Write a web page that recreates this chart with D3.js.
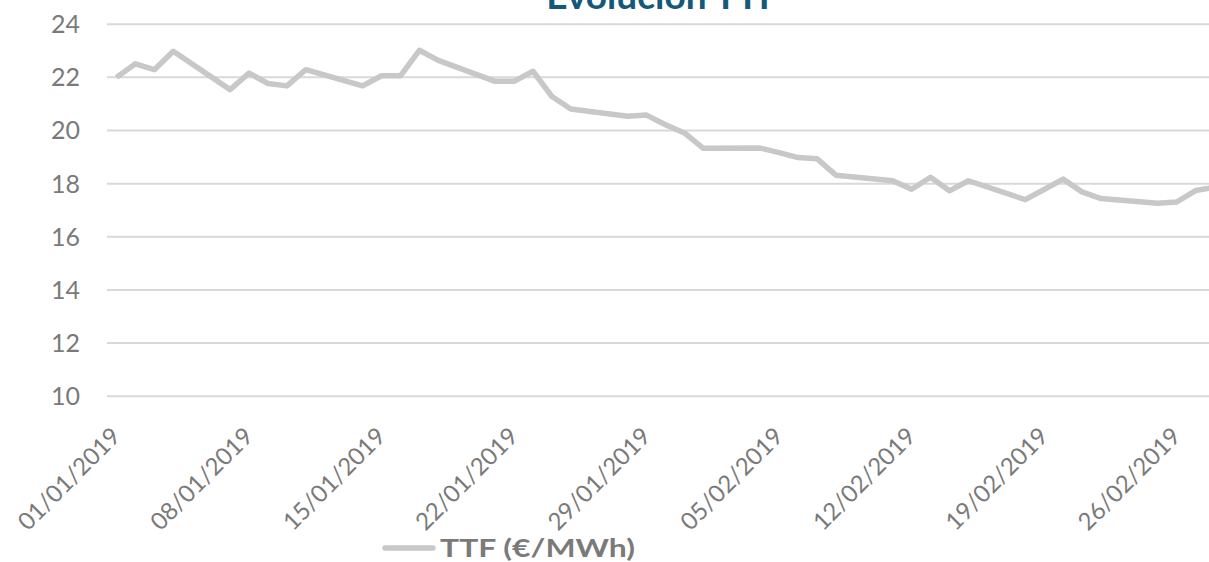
<!DOCTYPE html>
<html>
<head>
<meta charset="utf-8">
<script src="https://cdn.jsdelivr.net/npm/d3@7"></script>
<style>
  html, body { margin: 0; padding: 0; background: #fff; overflow: hidden; }
  svg { display: block; }
  svg text { font-family: Lato, "Open Sans", sans-serif; }
</style>
</head>
<body>
<div id="chart"></div>
<script>
// TTF daily prices (trading days only)
const dates = [
  "01/01/2019", "02/01/2019", "03/01/2019", "04/01/2019",
  "07/01/2019", "08/01/2019", "09/01/2019", "10/01/2019", "11/01/2019",
  "14/01/2019", "15/01/2019", "16/01/2019", "17/01/2019", "18/01/2019",
  "21/01/2019", "22/01/2019", "23/01/2019", "24/01/2019", "25/01/2019",
  "28/01/2019", "29/01/2019", "30/01/2019", "31/01/2019", "01/02/2019",
  "04/02/2019", "05/02/2019", "06/02/2019", "07/02/2019", "08/02/2019",
  "11/02/2019", "12/02/2019", "13/02/2019", "14/02/2019", "15/02/2019",
  "18/02/2019", "19/02/2019", "20/02/2019", "21/02/2019", "22/02/2019",
  "25/02/2019", "26/02/2019", "27/02/2019", "28/02/2019"
];
const ttf = [
  21.98, 22.49, 22.27, 22.96,
  21.52, 22.14, 21.75, 21.66, 22.27,
  21.66, 22.04, 22.04, 23.0, 22.62,
  21.83, 21.83, 22.21, 21.26, 20.79,
  20.52, 20.56, 20.2, 19.89, 19.31,
  19.32, 19.15, 18.96, 18.92, 18.3,
  18.09, 17.77, 18.22, 17.71, 18.09,
  17.38, 17.76, 18.15, 17.67, 17.42,
  17.24, 17.29, 17.72, 17.84
];
const xTickLabels = [
  "01/01/2019", "08/01/2019", "15/01/2019", "22/01/2019", "29/01/2019",
  "05/02/2019", "12/02/2019", "19/02/2019", "26/02/2019"
];
const yTicks = [10, 12, 14, 16, 18, 20, 22, 24];
const title = "Evolución TTF";
const seriesName = "TTF (€/MWh)";

const width = 1209;
const height = 562;
const lineColor = "#c8c8c8";
const gridColor = "#d9d9d9";
const textColor = "#7a7a7a";
const font = "Lato, 'Open Sans', sans-serif";

const parse = d3.utcParse("%d/%m/%Y");
const data = dates.map((d, i) => ({ date: parse(d), value: ttf[i] }));

const svg = d3
  .select("#chart")
  .append("svg")
  .attr("width", width)
  .attr("height", height);

// date axis: half a day of padding on each side, plot runs past the right edge
const x = d3
  .scaleUtc()
  .domain([d3.utcHour.offset(parse("01/01/2019"), -12), d3.utcHour.offset(parse("28/02/2019"), 12)])
  .range([107, 1224]);

const y = d3.scaleLinear().domain([10, 24]).range([395.7, 23.7]);

// horizontal gridlines + y labels
const yAxis = svg
  .append("g")
  .attr("transform", "translate(107,0)")
  .call(d3.axisLeft(y).tickValues(yTicks).tickSize(-(1224 - 107)).tickPadding(27));
yAxis.attr("font-family", font);
yAxis.select(".domain").remove();
yAxis.selectAll(".tick line").attr("stroke", gridColor).attr("stroke-width", 2);
yAxis
  .selectAll(".tick text")
  .attr("fill", textColor)
  .style("font-size", "25px")
  .attr("dy", "0.36em");

// rotated date labels
const xAxis = svg
  .append("g")
  .attr("transform", "translate(0,395.7)")
  .call(d3.axisBottom(x).tickValues(xTickLabels.map(parse)).tickSize(0).tickFormat((d, i) => xTickLabels[i]));
xAxis.attr("font-family", font);
xAxis.select(".domain").remove();
xAxis
  .selectAll(".tick text")
  .attr("fill", textColor)
  .style("font-size", "24px")
  .attr("text-anchor", "end")
  .attr("x", 0)
  .attr("y", 0)
  .attr("dy", 0)
  .attr("transform", "translate(5,42) rotate(-45)");

// the series
const line = d3
  .line()
  .x((d) => x(d.date))
  .y((d) => y(d.value));

svg
  .append("path")
  .datum(data)
  .attr("d", line)
  .attr("fill", "none")
  .attr("stroke", lineColor)
  .attr("stroke-width", 5.5)
  .attr("stroke-linejoin", "round");

// title, cut at the top edge as in the source
svg
  .append("text")
  .attr("x", 663)
  .attr("y", 9)
  .attr("text-anchor", "middle")
  .attr("fill", "#14597b")
  .style("font-size", "37px")
  .style("font-weight", "bold")
  .text(title);

// legend
const legend = svg.append("g").attr("transform", "translate(383,548)");
legend
  .append("line")
  .attr("x1", 2)
  .attr("x2", 50)
  .attr("stroke", lineColor)
  .attr("stroke-width", 5.5)
  .attr("stroke-linecap", "round");
legend
  .append("text")
  .attr("x", 57)
  .attr("y", 9)
  .attr("fill", textColor)
  .attr("textLength", 195)
  .attr("lengthAdjust", "spacingAndGlyphs")
  .style("font-size", "25px")
  .style("font-weight", "bold")
  .text(seriesName);
</script>
</body>
</html>
